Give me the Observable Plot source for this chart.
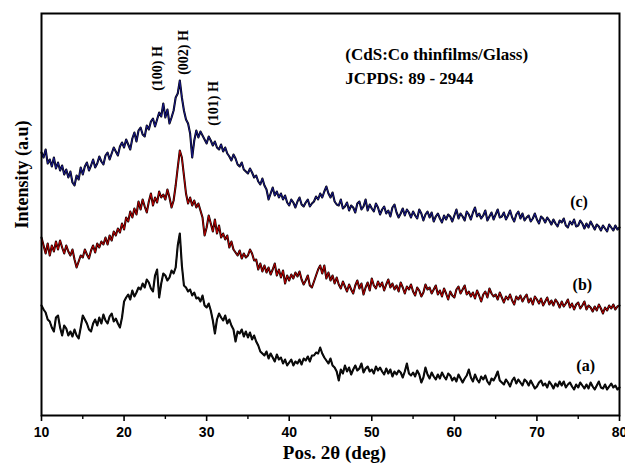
<!DOCTYPE html>
<html><head><meta charset="utf-8">
<script src="https://cdn.jsdelivr.net/npm/d3@7"></script>
<script src="https://cdn.jsdelivr.net/npm/@observablehq/plot@0.6"></script>
<style>body{margin:0;background:#fff}</style>
</head><body><div id="chart"></div>
<script>
// 2θ grid: start 10°, step 0.25°, up to 80°
const thetaStart = 10, thetaStep = 0.25;

// (a) — black trace, intensity (a.u.)
const seriesA = [
110,106,103,96, 94,88,84,98, 100,88,80,90, 87,80,84,79, 86,80,77,88,
100,96,92,86, 84,92,96,90, 98,92,101,95, 92,99,102,94, 97,92,88,98,
114,118,121,116, 125,119,123,128, 126,132,128,136, 133,127,124,140, 146,118,132,142,
140,135,138,145, 142,148,170,182, 150,130,128,124, 126,120,123,117, 118,114,120,110,
108,112,105,95, 82,96,102,98, 95,100,92,96, 90,86,74,84, 82,86,79,84,
78,83,76,80, 74,70,64,62, 60,64,57,62, 58,54,61,56, 58,52,56,50,
53,56,50,54, 52,56,51,57, 55,59,54,60, 60,63,62,68, 62,58,55,52,
57,50,48,44, 35,46,42,50, 44,48,41,46, 50,45,47,52, 43,47,49,44,
46,42,49,45, 48,44,41,47, 42,46,39,44, 41,45,43,38, 44,52,42,40,
43,39,45,41, 33,38,48,41, 37,43,39,36, 41,37,43,39, 36,42,40,35,
38,34,41,37, 33,37,40,46, 38,34,41,36, 33,39,36,40, 34,31,37,35,
39,44,35,33, 31,36,33,29, 35,38,32,36, 33,30,36,34, 30,35,31,27,
29,33,35,30, 32,28,34,31, 27,32,29,34, 30,34,28,31, 33,29,26,31,
28,33,30,27, 31,27,33,29, 26,30,34,28, 27,31,26,29, 32,28,30,26,
28
];

// (b) — red trace
const seriesB = [
178,170,162,172, 160,170,164,174, 166,175,168,162, 170,164,160,166, 156,148,154,160,
158,166,161,157, 165,170,163,172, 168,174,171,178, 171,180,175,184, 180,187,183,192,
186,198,194,204, 198,207,201,214, 206,216,209,203, 214,222,210,218, 213,224,218,221,
216,226,218,208, 215,230,248,265, 258,240,222,212, 218,210,215,208, 212,205,198,180,
188,200,192,184, 196,182,190,178, 182,176,180,168, 174,166,163,160, 165,157,162,158,
160,166,162,155, 156,146,152,144, 150,143,148,141, 146,152,140,146, 138,145,132,140,
135,141,137,143, 139,144,136,131, 135,140,130,128, 134,140,146,150, 142,150,137,143,
135,140,132,138, 131,127,134,129, 124,131,126,122, 130,135,127,132, 121,128,133,125,
137,130,127,134, 129,133,125,131, 136,128,132,126, 130,124,133,128, 122,129,126,131,
124,120,128,125, 119,123,131,126, 128,122,126,130, 121,125,119,127, 122,116,124,120,
118,126,129,122, 126,130,121,124, 119,123,117,125, 120,114,121,124, 118,127,122,119,
121,116,123,118, 113,119,116,121, 115,111,119,116, 120,114,118,121, 113,117,111,119,
116,112,117,110, 114,118,111,115, 110,116,113,108, 114,109,112,116, 108,112,106,111,
113,107,110,114, 106,110,108,104, 109,105,111,107, 102,108,105,110, 107,111,106,109,
110
];

// (c) — blue trace
const seriesC = [
263,258,266,252, 256,249,258,247, 253,245,250,241, 246,238,244,233, 230,240,236,248,
241,249,253,245, 250,256,248,252, 259,254,251,260, 263,256,262,268, 264,260,269,273,
268,276,271,266, 277,283,274,285, 288,281,279,290, 286,294,297,289, 296,303,299,312,
298,306,292,298, 305,318,322,335, 318,305,296,292, 282,258,275,285, 278,284,280,276,
272,279,275,270, 274,268,266,271, 264,268,262,259, 255,261,257,251, 249,253,246,244,
242,247,243,238, 240,234,231,237, 230,226,216,222, 228,220,224,218, 222,216,220,213,
210,216,213,208, 214,218,211,209, 213,216,209,212, 214,219,216,222, 218,224,229,222,
218,223,214,211, 210,216,207,209, 213,205,210,208, 203,212,214,206, 209,216,205,211,
207,204,212,208, 201,206,209,202, 205,199,208,211, 203,198,202,207, 200,206,203,198,
204,200,197,206, 202,195,201,204, 198,203,194,199, 202,197,193,200, 196,201,199,194,
200,206,197,202, 199,195,204,201, 196,203,208,199, 202,197,200,205, 195,199,203,196,
201,206,198,199, 203,196,200,205, 198,194,201,204, 197,202,195,198, 200,194,197,202,
196,192,199,197, 193,198,195,191, 196,192,189,195, 193,197,190,188, 194,191,196,189,
190,195,192,187, 192,188,194,190, 186,191,189,185, 190,187,184,191, 188,185,190,186,
188
];

const seriesNames = ["(a)", "(b)", "(c)"];
const seriesColors = ["#111111", "#c00000", "#1a1a90"];

const majorTicks = [10, 20, 30, 40, 50, 60, 70, 80];
const minorTicks = [15, 25, 35, 45, 55, 65, 75];

// label positions in data units (2θ, intensity)
const curveLabelX = [75.9, 75.5, 75.1];
const curveLabelY = [50, 131, 214];

const peakLabels = ["(100) H", "(002) H", "(101) H"];
const peakLabelX = [24.0, 27.2, 30.8];
const peakLabelY = [347, 363, 312];

const noteLines = ["(CdS:Co thinfilms/Glass)", "JCPDS: 89 - 2944"];
const noteX = [46.8, 46.8];
const noteY = [361, 337];

const rows = [];
[seriesA, seriesB, seriesC].forEach((vals, k) => {
  vals.forEach((v, i) => rows.push({theta: thetaStart + i * thetaStep, I: v, s: seriesNames[k]}));
});

const serif = "'Liberation Serif', 'Times New Roman', serif";
const sans = "'Liberation Sans', Arial, sans-serif";

const lineMarks = [];
seriesNames.forEach((name, k) => {
  const data = rows.filter(r => r.s === name);
  lineMarks.push(Plot.line(data, {x: "theta", y: "I", stroke: "#000", strokeWidth: 2.1, strokeLinejoin: "round"}));
  lineMarks.push(Plot.line(data, {x: "theta", y: "I", stroke: seriesColors[k], strokeWidth: 1.0, strokeLinejoin: "round"}));
});

const chart = Plot.plot({
  width: 625, height: 467,
  marginLeft: 41, marginRight: 6, marginTop: 13, marginBottom: 52,
  style: {fontFamily: sans, fontSize: "14px", fontWeight: "bold", background: "#fff", color: "#000"},
  x: {domain: [10, 80]},
  y: {domain: [0, 402], axis: null},
  marks: [
    ...lineMarks,
    Plot.frame({stroke: "#000", strokeWidth: 2}),
    Plot.axisX({ticks: majorTicks, tickSize: 6, tickPadding: 6, strokeWidth: 1.6, label: null,
      tickFormat: d => String(d), fontSize: 14, fontWeight: "bold", fontFamily: sans}),
    Plot.axisX({ticks: minorTicks, tickSize: 4, strokeWidth: 1.4, label: null, tickFormat: () => ""}),
    Plot.text(["Pos. 2θ (deg)"], {frameAnchor: "bottom", dy: 43, dx: 4, fontFamily: serif, fontSize: 19, fontWeight: "bold", fill: "#000"}),
    Plot.text(["Intensity (a.u)"], {frameAnchor: "left", dx: -19, dy: 14, rotate: -90, fontFamily: serif, fontSize: 18, fontWeight: "bold", fill: "#000"}),
    Plot.text(seriesNames, {x: (d, i) => curveLabelX[i], y: (d, i) => curveLabelY[i], text: d => d,
      fontFamily: serif, fontSize: 16, fontWeight: "bold", fill: "#000"}),
    Plot.text(peakLabels, {x: (d, i) => peakLabelX[i], y: (d, i) => peakLabelY[i], text: d => d, rotate: -90,
      fontFamily: serif, fontSize: 14, fontWeight: "bold", fill: "#000"}),
    Plot.text(noteLines, {x: (d, i) => noteX[i], y: (d, i) => noteY[i], text: d => d, textAnchor: "start",
      fontFamily: serif, fontSize: 17, fontWeight: "bold", fill: "#000"})
  ]
});
document.getElementById("chart").appendChild(chart);
</script>
</body></html>
